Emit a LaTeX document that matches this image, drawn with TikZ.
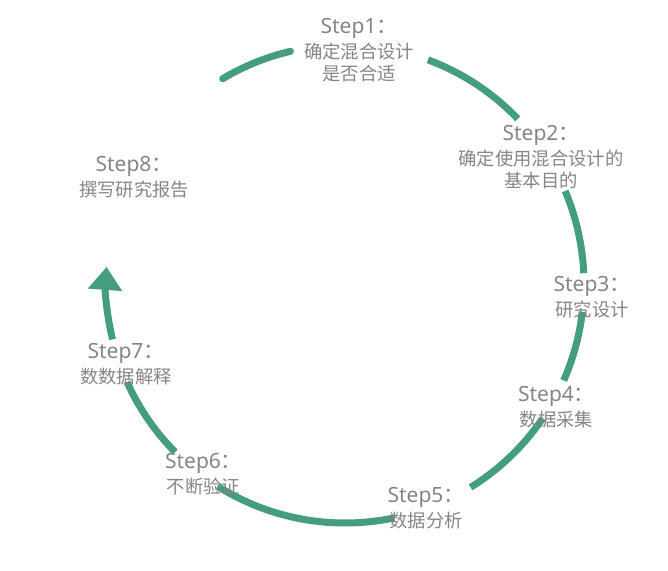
\documentclass[tikz,border=0pt]{standalone}
\usepackage{fontspec}
\setmainfont{Noto Sans CJK SC}
\newfontfamily\latinfont{Noto Sans}
\usepackage{xcolor}
\usetikzlibrary{arrows.meta}
\definecolor{arcgreen}{HTML}{449E7E}
\definecolor{txtgray}{HTML}{858585}
\newcommand{\stepname}[1]{{\fontsize{21}{21.5}\selectfont{\latinfont Step#1}：}}
\tikzset{stepbox/.style={anchor=north,align=center,inner sep=0pt,text=txtgray,font=\fontsize{18.3}{21.5}\selectfont},
  arcline/.style={draw=arcgreen,line width=7pt}}

\begin{document}
\begin{tikzpicture}[x=1pt,y=1pt,>={Triangle[width=33pt,length=23pt]}]
    \useasboundingbox (0,0) rectangle (668,570);
    \coordinate (o) at (345,286);

    \draw [arcline,line cap=round] (o) ++(120.8:239) arc[start angle=120.8,end angle=103.2,radius=239];
    \draw [arcline] (o) ++(69.7:239) arc[start angle=69.7,end angle=43.7,radius=239];
    \draw [arcline] (o) ++(22.9:239) arc[start angle=22.9,end angle=2.6,radius=239];
    \draw [arcline] (o) ++(-6.7:239) arc[start angle=-6.7,end angle=-23.8,radius=239];
    \draw [arcline] (o) ++(-34.2:239) arc[start angle=-34.2,end angle=-58.3,radius=239];
    \draw [arcline] (o) ++(-78.1:239) arc[start angle=-78.1,end angle=-122.2,radius=239];
    \draw [arcline] (o) ++(-135.3:239) arc[start angle=-135.3,end angle=-155.8,radius=239];
    \draw [arcline,->] (o) ++(-166.6:239) arc[start angle=-166.6,end angle=-184.1,radius=239];

    \node[stepbox] (s1) at (359,552) {\stepname{1}\\[4pt]确定混合设计\\是否合适};
    \node[stepbox] (s2) at (541,445) {\stepname{2}\\[4pt]确定使用混合设计的\\基本目的};
    \node[stepbox] (s3) at (592,294) {\stepname{3}\\[4pt]研究设计};
    \node[stepbox] (s4) at (556.5,184) {\stepname{4}\\[4pt]数据采集};
    \node[stepbox] (s5) at (426,83) {\stepname{5}\\[4pt]数据分析};
    \node[stepbox] (s6) at (203.5,117) {\stepname{6}\\[4pt]不断验证};
    \node[stepbox] (s7) at (126,227) {\stepname{7}\\[4pt]数数据解释};
    \node[stepbox] (s8) at (134,414) {\stepname{8}\\[4pt]撰写研究报告};
\end{tikzpicture}
\end{document}
